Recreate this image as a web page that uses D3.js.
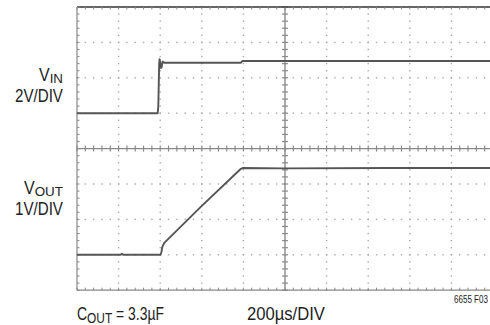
<!DOCTYPE html>
<html>
<head>
<meta charset="utf-8">
<script src="https://cdn.jsdelivr.net/npm/d3@7"></script>
<style>
  html, body { margin: 0; padding: 0; background: #fff; overflow: hidden; }
  svg { display: block; }
  text { font-family: "Liberation Sans", Arial, sans-serif; fill: #222; }
</style>
</head>
<body>
<script>
// ---- data (time in µs, voltage in V) ----
const vinTime  = [0, 200, 388, 391, 393, 395, 397, 399, 401, 404, 407, 410, 413, 418, 600, 788, 793, 798, 1000, 1500, 2000];
const vinVolts = [0, 0.0, 0.0, 0.4, 1.6, 2.8, 3.05, 2.95, 2.7, 2.55, 2.6, 2.85, 2.92, 2.85, 2.85, 2.85, 2.93, 2.95, 2.95, 2.95, 2.95];
const voutTime  = [0, 210, 216, 222, 402, 406, 410, 416, 422, 600, 788, 796, 1000, 1500, 2000];
const voutVolts = [0, 0, 0.03, 0, 0, 0.08, 0.22, 0.3, 0.35, 1.38, 2.43, 2.45, 2.44, 2.45, 2.45];
const xDivisions = 10;   // 200µs/DIV
const yDivisions = 8;
const usPerDiv = 200;
const vinVoltsPerDiv = 2, vinZeroDiv = 5;
const voutVoltsPerDiv = 1, voutZeroDiv = 1;
const vinLabel = ["V", "IN", "2V/DIV"];
const voutLabel = ["V", "OUT", "1V/DIV"];
const coutLabel = ["C", "OUT", " = 3.3µF"];
const timeLabel = "200µs/DIV";
const figLabel = "6655 F03";

// ---- layout ----
const W = 490, H = 325;
const plotLeft = 77, plotTop = 7, divW = 41.6, divH = 35.4;
const svg = d3.select("body").append("svg").attr("width", W).attr("height", H);

const x = d3.scaleLinear().domain([0, xDivisions * usPerDiv]).range([plotLeft, plotLeft + xDivisions * divW]);
const yDiv = d3.scaleLinear().domain([0, yDivisions]).range([plotTop + yDivisions * divH, plotTop]);
const yVin = v => yDiv(vinZeroDiv + v / vinVoltsPerDiv);
const yVout = v => yDiv(voutZeroDiv + v / voutVoltsPerDiv);

const x0 = x(0), x1 = x(xDivisions * usPerDiv), y0 = yDiv(0), y1 = yDiv(yDivisions);
const minorT = d3.range(0, xDivisions * usPerDiv + 1, usPerDiv / 5);
const minorD = d3.range(0, yDivisions + 0.001, 0.2);

const g = svg.append("g");

// dotted gridlines
const dotC = "#a8a8a8";
for (let i = 1; i < xDivisions; i++) {
  if (i === xDivisions / 2) continue;
  const xx = x(i * usPerDiv);
  minorD.forEach(d => {
    g.append("rect").attr("x", xx - 0.7).attr("y", yDiv(d) - 0.7).attr("width", 1.4).attr("height", 1.4).attr("fill", dotC);
  });
}
for (let j = 1; j < yDivisions; j++) {
  if (j === yDivisions / 2) continue;
  const yy = yDiv(j);
  minorT.forEach(t => {
    g.append("rect").attr("x", x(t) - 0.7).attr("y", yy - 0.7).attr("width", 1.4).attr("height", 1.4).attr("fill", dotC);
  });
}

// center axes with ticks
const axC = "#8a8a8a";
const cx = x(xDivisions / 2 * usPerDiv), cy = yDiv(yDivisions / 2);
g.append("line").attr("x1", cx).attr("x2", cx).attr("y1", y1).attr("y2", y0).attr("stroke", axC).attr("stroke-width", 1.4);
g.append("line").attr("x1", x0).attr("x2", x1).attr("y1", cy).attr("y2", cy).attr("stroke", axC).attr("stroke-width", 1.4);
minorD.forEach(d => {
  g.append("line").attr("x1", cx - 3).attr("x2", cx + 3).attr("y1", yDiv(d)).attr("y2", yDiv(d)).attr("stroke", axC).attr("stroke-width", 1.2);
});
minorT.forEach(t => {
  g.append("line").attr("x1", x(t)).attr("x2", x(t)).attr("y1", cy - 3).attr("y2", cy + 3).attr("stroke", axC).attr("stroke-width", 1.2);
});

// border with inward ticks
const bC = "#888";
g.append("line").attr("x1", x0).attr("x2", x1).attr("y1", y1).attr("y2", y1).attr("stroke", "#333").attr("stroke-width", 1.5);
g.append("line").attr("x1", x0).attr("x2", x1).attr("y1", y0).attr("y2", y0).attr("stroke", bC).attr("stroke-width", 1.2);
g.append("line").attr("x1", x0).attr("x2", x0).attr("y1", y1).attr("y2", y0).attr("stroke", bC).attr("stroke-width", 1.2);
g.append("line").attr("x1", x1).attr("x2", x1).attr("y1", y1).attr("y2", y0).attr("stroke", bC).attr("stroke-width", 1.2);
minorT.forEach(t => {
  g.append("line").attr("x1", x(t)).attr("x2", x(t)).attr("y1", y1).attr("y2", y1 + 2.5).attr("stroke", bC).attr("stroke-width", 1);
  g.append("line").attr("x1", x(t)).attr("x2", x(t)).attr("y1", y0).attr("y2", y0 - 2.5).attr("stroke", bC).attr("stroke-width", 1);
});
minorD.forEach(d => {
  g.append("line").attr("x1", x0).attr("x2", x0 + 2.5).attr("y1", yDiv(d)).attr("y2", yDiv(d)).attr("stroke", bC).attr("stroke-width", 1);
});

// traces
const trC = "#555";
const vinData = vinTime.map((t, i) => [t, vinVolts[i]]);
const voutData = voutTime.map((t, i) => [t, voutVolts[i]]);
g.append("path").datum(vinData)
  .attr("d", d3.line().x(d => x(d[0])).y(d => yVin(d[1])))
  .attr("fill", "none").attr("stroke", trC).attr("stroke-width", 1.9).attr("stroke-linejoin", "round");
g.append("path").datum(voutData)
  .attr("d", d3.line().x(d => x(d[0])).y(d => yVout(d[1])))
  .attr("fill", "none").attr("stroke", trC).attr("stroke-width", 1.9).attr("stroke-linejoin", "round");

// labels: pieces laid out left-to-right, then the group is fitted to a target width
function label(px, py, anchor, pieces, targetW) {
  const outer = svg.append("g");
  const inner = outer.append("g");
  let cursor = 0;
  pieces.forEach(p => {
    const t = inner.append("text").attr("font-size", p.size).text(p.text)
      .attr("xml:space", "preserve").style("white-space", "pre");
    const w = t.node().getComputedTextLength() * p.sx;
    t.attr("transform", `translate(${cursor},${p.dy || 0}) scale(${p.sx},1)`);
    cursor += w;
  });
  const k = targetW ? targetW / cursor : 1;
  const ox = anchor === "end" ? px - cursor * k : px;
  outer.attr("transform", `translate(${ox},${py}) scale(${k},1)`);
}
const main = (s, fs) => ({ text: s, size: fs, sx: 0.82 });
const sub = (s, fs, dy) => ({ text: s, size: fs, sx: 0.95, dy: dy });
label(63, 81, "end", [main(vinLabel[0], 18), sub(vinLabel[1], 13, 1.5)], 24);
label(63, 102, "end", [main(vinLabel[2], 18)], 48);
label(63, 194, "end", [main(voutLabel[0], 18), sub(voutLabel[1], 13, 1.5)], 39);
label(63, 215, "end", [main(voutLabel[2], 18)], 48);
label(77, 320, "start", [main(coutLabel[0], 19), sub(coutLabel[1], 14, 2.5), main(coutLabel[2], 19)], 87);
label(247, 320, "start", [main(timeLabel, 19)], 78);
label(454, 303, "start", [{ text: figLabel, size: 10, sx: 1 }], 34);
</script>
</body>
</html>
